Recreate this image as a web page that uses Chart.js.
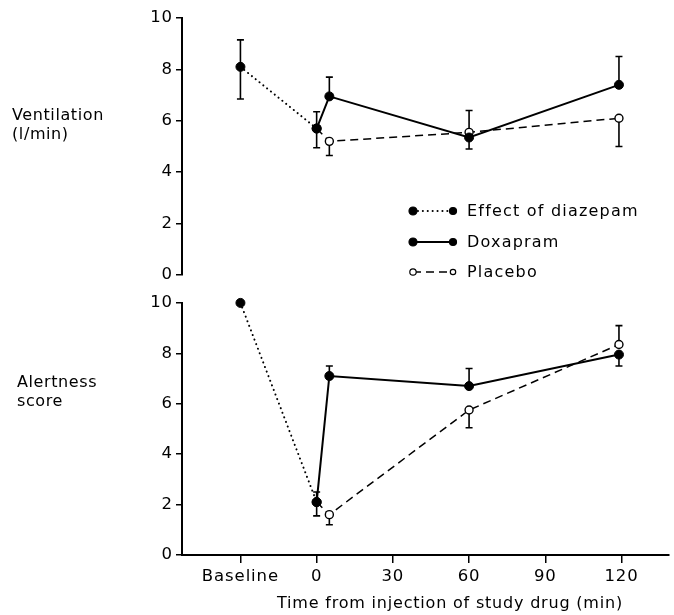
<!DOCTYPE html>
<html><head><meta charset="utf-8">
<script src="https://cdn.jsdelivr.net/npm/chart.js@4/dist/chart.umd.min.js"></script>
<style>
html,body{margin:0;padding:0;background:#fff;}
body{width:674px;height:615px;position:relative;overflow:hidden;font-family:"DejaVu Sans",sans-serif;color:#000;}
canvas{position:absolute;left:0;}
#c1{top:0}
#c2{top:290px}
.lab{position:absolute;font-size:16px;line-height:19px;letter-spacing:0.6px;white-space:nowrap;}
</style></head><body>
<canvas id="c1" width="674" height="290"></canvas>
<canvas id="c2" width="674" height="325"></canvas>
<div class="lab" style="left:12px;top:105px">Ventilation<br>(l/min)</div>
<div class="lab" style="left:17px;top:372px">Alertness<br>score</div>
<div class="lab" style="left:250px;width:400px;text-align:center;top:593px;letter-spacing:0.8px">Time from injection of study drug (min)</div>
<script>
// ---- data ----
const seriesNames = ['Effect of diazepam', 'Doxapram', 'Placebo'];
const xTickValues = [-30, 0, 30, 60, 90, 120];
const xTickLabels = ['Baseline', '0', '30', '60', '90', '120'];
const yTickValues = [0, 2, 4, 6, 8, 10];
const diazTimes = [-30, 0];
const drugTimes = [0, 5, 60, 119];

const ventDiaz   = [8.1, 5.7];
const ventDiazHi = [9.15, 6.35];
const ventDiazLo = [6.85, 4.95];
const ventDox    = [5.7, 6.95, 5.35, 7.4];
const ventDoxHi  = [null, 7.7, null, 8.5];
const ventDoxLo  = [null, null, 4.9, null];
const ventPlac   = [5.7, 5.2, 5.55, 6.1];
const ventPlacHi = [null, null, 6.4, null];
const ventPlacLo = [null, 4.65, null, 5.0];

const alertDiaz   = [10, 2.1];
const alertDiazHi = [null, 2.5];
const alertDiazLo = [null, 1.55];
const alertDox    = [2.1, 7.1, 6.7, 7.95];
const alertDoxHi  = [null, 7.5, 7.4, null];
const alertDoxLo  = [null, null, null, 7.5];
const alertPlac   = [2.1, 1.6, 5.75, 8.35];
const alertPlacHi = [null, null, null, 9.1];
const alertPlacLo = [null, 1.2, 5.05, null];

// ---- helpers ----
const FONT = {family: '"DejaVu Sans", sans-serif', size: 16.5};
function pts(xs, ys) { return xs.map((x, i) => ({x: x, y: ys[i]})); }

const styles = [
  {borderColor: '#000', borderWidth: 2, borderDash: [0.1, 4.8], borderCapStyle: 'round',
   pointBackgroundColor: '#000', pointBorderColor: '#000', pointBorderWidth: 1},
  {borderColor: '#000', borderWidth: 2, borderDash: [],
   pointBackgroundColor: '#000', pointBorderColor: '#000', pointBorderWidth: 1},
  {borderColor: '#000', borderWidth: 1.5, borderDash: [8, 5],
   pointBackgroundColor: '#fff', pointBorderColor: '#000', pointBorderWidth: 1.4}
];

function makeDatasets(d, dHi, dLo, dox, doxHi, doxLo, pl, plHi, plLo) {
  return [
    Object.assign({label: seriesNames[0], data: pts(diazTimes, d), errHi: dHi, errLo: dLo,
      pointRadius: 4.5, clip: false}, styles[0]),
    Object.assign({label: seriesNames[1], data: pts(drugTimes, dox), errHi: doxHi, errLo: doxLo,
      pointRadius: 4.5, clip: false}, styles[1]),
    Object.assign({label: seriesNames[2], data: pts(drugTimes, pl), errHi: plHi, errLo: plLo,
      pointRadius: [0, 4, 4, 4], clip: false}, styles[2])
  ];
}

const spacing = {
  id: 'spacing',
  beforeDraw(chart) { chart.ctx.letterSpacing = '0.9px'; }
};

const errorBars = {
  id: 'errorBars',
  beforeDatasetsDraw(chart) {
    const ctx = chart.ctx, xs = chart.scales.x, ys = chart.scales.y;
    ctx.save();
    ctx.strokeStyle = '#000'; ctx.lineWidth = 1.6; ctx.setLineDash([]);
    chart.data.datasets.forEach(ds => {
      ds.data.forEach((p, i) => {
        const px = xs.getPixelForValue(p.x), py = ys.getPixelForValue(p.y);
        [ds.errHi[i], ds.errLo[i]].forEach(v => {
          if (v === null || v === undefined) return;
          const ey = ys.getPixelForValue(v);
          ctx.beginPath();
          ctx.moveTo(px, py); ctx.lineTo(px, ey);
          ctx.moveTo(px - 3.5, ey); ctx.lineTo(px + 3.5, ey);
          ctx.stroke();
        });
      });
    });
    ctx.restore();
  }
};

const customLegend = {
  id: 'customLegend',
  afterDraw(chart) {
    const ctx = chart.ctx;
    const x0 = 413, x1 = 453, tx = 467, rows = [211, 242, 272];
    ctx.save();
    chart.data.datasets.forEach((ds, i) => {
      const y = rows[i];
      ctx.beginPath();
      ctx.strokeStyle = '#000';
      ctx.lineWidth = ds.borderWidth;
      ctx.lineCap = ds.borderCapStyle || 'butt';
      ctx.setLineDash(ds.borderDash);
      ctx.moveTo(x0, y); ctx.lineTo(x1, y); ctx.stroke();
      ctx.setLineDash([]);
      const r = i === 2 ? 3.2 : 4;
      [[x0, r], [x1, r - 0.5]].forEach(([px, rr]) => {
        ctx.beginPath(); ctx.arc(px, y, rr, 0, Math.PI * 2);
        ctx.fillStyle = ds.pointBackgroundColor; ctx.fill();
        ctx.lineWidth = 1.2; ctx.strokeStyle = '#000'; ctx.stroke();
      });
      ctx.fillStyle = '#000';
      ctx.font = '16px "DejaVu Sans", sans-serif';
      ctx.letterSpacing = '1.2px';
      ctx.textBaseline = 'middle'; ctx.textAlign = 'left';
      ctx.fillText(ds.label, tx, y + 1);
    });
    ctx.restore();
  }
};

function makeScales(showX) {
  const gridCommon = {display: true, drawOnChartArea: false, drawTicks: true, color: '#000', lineWidth: 1.5};
  const x = {
    type: 'linear', min: -53, max: 138.5, display: showX,
    afterBuildTicks: s => { s.ticks = xTickValues.map(v => ({value: v})); },
    ticks: {callback: (v, i) => xTickLabels[i], color: '#000', font: FONT, padding: 4, maxRotation: 0, autoSkip: false},
    grid: Object.assign({tickLength: 8}, gridCommon),
    border: {display: true, color: '#000', width: 2}
  };
  if (showX) x.afterFit = s => { s.height = 60; };
  return {
    x: x,
    y: {
      type: 'linear', min: 0, max: 10,
      afterBuildTicks: s => { s.ticks = yTickValues.map(v => ({value: v})); },
      ticks: {color: '#000', font: FONT, padding: 3},
      grid: Object.assign({tickLength: 6}, gridCommon),
      border: {display: true, color: '#000', width: 2},
      afterFit: s => { s.width = 182; }
    }
  };
}

function makeChart(id, datasets, showX, padding, plugins) {
  return new Chart(document.getElementById(id), {
    type: 'line',
    data: {datasets: datasets},
    options: {
      responsive: false, animation: false, devicePixelRatio: 1,
      layout: {padding: padding},
      plugins: {legend: {display: false}, tooltip: {enabled: false}},
      scales: makeScales(showX),
      elements: {line: {tension: 0}}
    },
    plugins: plugins
  });
}

makeChart('c1',
  makeDatasets(ventDiaz, ventDiazHi, ventDiazLo, ventDox, ventDoxHi, ventDoxLo, ventPlac, ventPlacHi, ventPlacLo),
  false, {top: 18, right: 4, bottom: 15, left: 0}, [spacing, errorBars, customLegend]);

makeChart('c2',
  makeDatasets(alertDiaz, alertDiazHi, alertDiazLo, alertDox, alertDoxHi, alertDoxLo, alertPlac, alertPlacHi, alertPlacLo),
  true, {top: 11, right: 4, bottom: 0, left: 0}, [spacing, errorBars]);
</script>
</body></html>
